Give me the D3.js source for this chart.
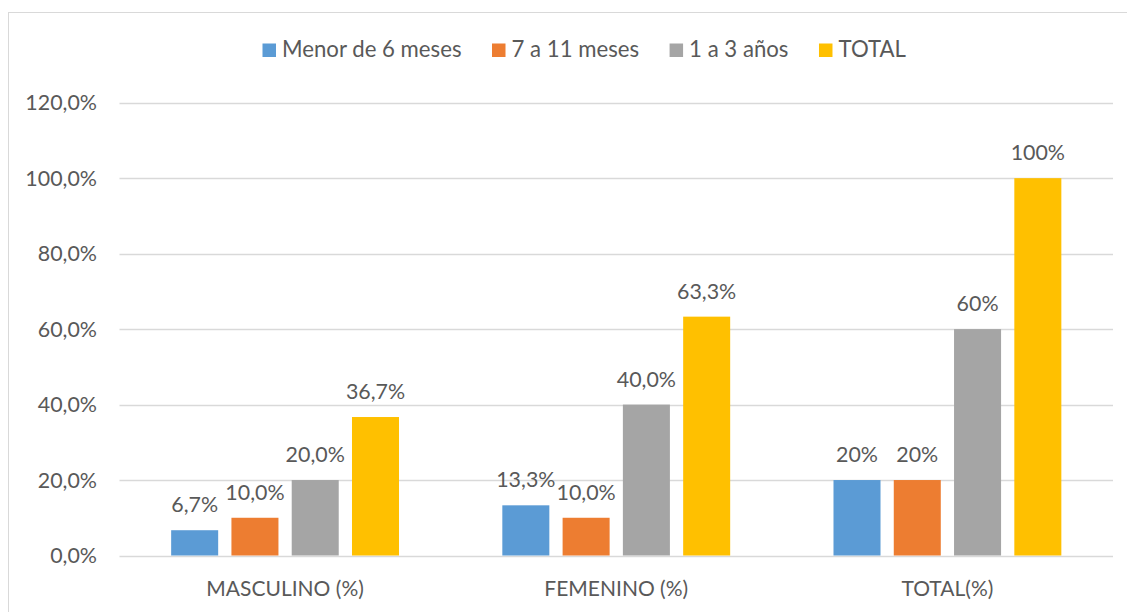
<!DOCTYPE html>
<html>
<head>
<meta charset="utf-8">
<script src="https://cdn.jsdelivr.net/npm/d3@7"></script>
<style>
  html, body { margin: 0; padding: 0; background: #fff; }
  svg text { font-family: Lato, "Noto Sans", sans-serif; fill: #595959; }
</style>
</head>
<body>
<svg id="chart" width="1127" height="612"></svg>
<script>
const categories = ["MASCULINO (%)", "FEMENINO (%)", "TOTAL(%)"];
const seriesNames = ["Menor de 6 meses", "7 a 11 meses", "1 a 3 años", "TOTAL"];
const menor6 = [6.7, 13.3, 20];
const meses7a11 = [10.0, 10.0, 20];
const anos1a3 = [20.0, 40.0, 60];
const totalSerie = [36.7, 63.3, 100];
const labelsMenor6 = ["6,7%", "13,3%", "20%"];
const labels7a11 = ["10,0%", "10,0%", "20%"];
const labels1a3 = ["20,0%", "40,0%", "60%"];
const labelsTotal = ["36,7%", "63,3%", "100%"];
const yTicks = [0, 20, 40, 60, 80, 100, 120];
const yTickLabels = ["0,0%", "20,0%", "40,0%", "60,0%", "80,0%", "100,0%", "120,0%"];
const colors = ["#5B9BD5", "#ED7D31", "#A5A5A5", "#FFC000"];

const values = [menor6, meses7a11, anos1a3, totalSerie];
const labels = [labelsMenor6, labels7a11, labels1a3, labelsTotal];

const svg = d3.select("#chart");
const W = 1127, H = 612;
const plot = { left: 119.5, right: 1113, top: 102.7, bottom: 555.5 };

// chart border
svg.append("rect")
  .attr("x", 8.5).attr("y", 12.5)
  .attr("width", W + 20).attr("height", H + 20)
  .attr("fill", "none").attr("stroke", "#D9D9D9").attr("stroke-width", 1);

const y = d3.scaleLinear().domain([0, 120]).range([plot.bottom, plot.top]);
const x0 = d3.scaleBand().domain(categories).range([plot.left, plot.right]).padding(0);
const x1 = d3.scaleBand().domain(seriesNames).range([0, x0.bandwidth()])
  .paddingInner(0.22).paddingOuter(0.857);

// gridlines
svg.append("g").selectAll("line").data(yTicks).join("line")
  .attr("x1", plot.left).attr("x2", plot.right)
  .attr("y1", d => Math.round(y(d)) + 0.5).attr("y2", d => Math.round(y(d)) + 0.5)
  .attr("stroke", "#D9D9D9").attr("stroke-width", 1.3);

// y axis labels
svg.append("g").selectAll("text").data(yTicks).join("text")
  .attr("x", 97).attr("y", d => y(d) + 7.5)
  .attr("text-anchor", "end")
  .attr("font-size", "21.4px")
  .text((d, i) => yTickLabels[i]);

// bars
const groups = svg.append("g").selectAll("g").data(categories).join("g")
  .attr("transform", c => `translate(${x0(c)},0)`);

seriesNames.forEach((s, si) => {
  groups.append("rect")
    .attr("x", x1(s))
    .attr("width", x1.bandwidth())
    .attr("y", (c, ci) => y(values[si][ci]))
    .attr("height", (c, ci) => y(0) - y(values[si][ci]))
    .attr("fill", colors[si]);
  groups.append("text")
    .attr("x", x1(s) + x1.bandwidth() / 2)
    .attr("y", (c, ci) => y(values[si][ci]) - 18)
    .attr("text-anchor", "middle")
    .attr("font-size", "21.4px")
    .text((c, ci) => labels[si][ci]);
});

// category labels
svg.append("g").selectAll("text").data(categories).join("text")
  .attr("x", c => x0(c) + x0.bandwidth() / 2)
  .attr("y", 596)
  .attr("text-anchor", "middle")
  .attr("font-size", "21px")
  .text(c => c);

// legend
const legend = svg.append("g");
let lx = 262.5;
seriesNames.forEach((s, i) => {
  legend.append("rect").attr("x", lx).attr("y", 43.5).attr("width", 13.5).attr("height", 13.5)
    .attr("fill", colors[i]);
  const t = legend.append("text").attr("x", lx + 19.5).attr("y", 57.3)
    .attr("font-size", "22.2px").text(s);
  lx += 19.5 + t.node().getComputedTextLength() + 30.5;
});
</script>
</body>
</html>
